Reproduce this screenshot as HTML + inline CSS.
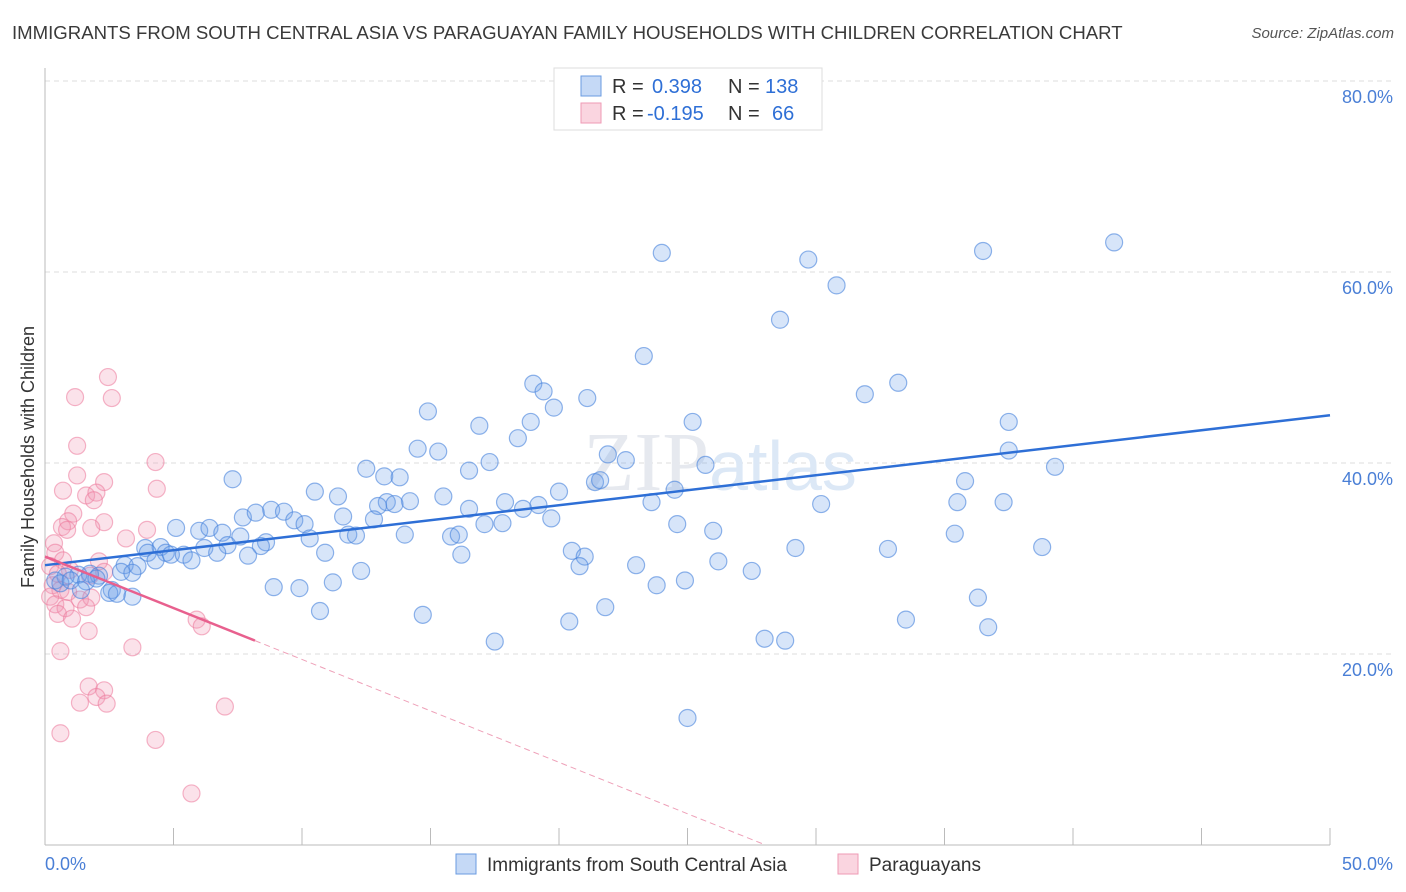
<!DOCTYPE html>
<html><head><meta charset="utf-8">
<style>
body{margin:0;background:#fff;font-family:"Liberation Sans",sans-serif;}
#wrap{position:relative;width:1406px;height:892px;overflow:hidden;}
.t{position:absolute;white-space:nowrap;}
</style></head>
<body>
<div id="wrap">
<div class="t" style="left:12px;top:22px;font-size:18.6px;color:#3a3a3a;">IMMIGRANTS FROM SOUTH CENTRAL ASIA VS PARAGUAYAN FAMILY HOUSEHOLDS WITH CHILDREN CORRELATION CHART</div>
<div class="t" style="right:12px;top:25px;font-size:15px;color:#555;font-style:italic;">Source: ZipAtlas.com</div>
<svg id="svg" width="1406" height="892" style="position:absolute;left:0;top:0;"></svg>
</div>
<script>
const yTicks=[20,40,60,80];
const xTickVals=[0,5,10,15,20,25,30,35,40,45,50];
const blueX=[24.0,29.7,36.5,41.6,30.8,28.6,23.3,19.0,19.4,21.1,19.8,14.9,31.9,33.2,37.5,16.9,18.9,18.4,25.2,14.5,15.3,21.9,22.6,17.3,16.5,25.7,37.5,39.3,12.5,13.2,13.8,7.3,35.8,21.4,21.6,24.5,20.0,10.5,11.4,15.5,13.3,14.2,13.6,17.9,19.2,23.6,30.2,35.5,37.3,16.5,12.96,18.6,8.8,9.3,7.7,8.2,11.6,12.8,19.7,9.7,10.1,17.1,17.8,24.6,5.1,6.0,6.4,6.9,26.0,7.6,11.8,12.1,14.0,15.8,16.1,35.4,10.3,8.6,8.4,7.1,6.2,3.9,4.5,38.8,29.2,32.8,20.5,4.0,4.7,4.9,5.4,6.7,10.9,16.2,21.0,5.7,4.3,7.9,26.2,3.1,20.8,23.0,3.6,12.3,27.5,2.96,3.4,1.75,2.1,1.3,0.8,0.4,0.6,1.0,1.6,2.0,24.9,11.2,23.8,8.9,9.9,1.4,2.6,2.5,2.8,3.4,36.3,21.8,10.7,14.7,33.5,20.4,36.7,28.0,28.8,17.5,25.0];
const blueY=[62.0,61.3,62.2,63.1,58.6,55.0,51.2,48.3,47.5,46.8,45.8,45.4,47.2,48.4,44.3,43.9,44.3,42.6,44.3,41.5,41.2,40.9,40.3,40.1,39.2,39.8,41.3,39.6,39.4,38.6,38.5,38.3,38.1,38.0,38.2,37.2,37.0,37.0,36.5,36.5,35.9,36.0,35.7,35.9,35.6,35.9,35.7,35.9,35.9,35.2,35.5,35.2,35.1,34.9,34.3,34.8,34.4,34.1,34.2,34.0,33.6,33.6,33.7,33.6,33.2,32.9,33.2,32.7,32.9,32.3,32.5,32.4,32.5,32.3,32.5,32.6,32.1,31.7,31.3,31.4,31.1,31.1,31.2,31.2,31.1,31.0,30.8,30.6,30.6,30.4,30.4,30.6,30.6,30.4,30.2,29.8,29.8,30.3,29.7,29.3,29.2,29.3,29.2,28.7,28.7,28.6,28.5,28.4,28.2,28.3,28.1,27.7,27.4,27.7,27.6,27.9,27.7,27.5,27.2,27.0,26.9,26.7,26.7,26.4,26.3,26.0,25.9,24.9,24.5,24.1,23.6,23.4,22.8,21.6,21.4,21.3,13.3];
const pinkX=[2.45,1.17,2.6,1.25,4.3,1.25,2.3,0.7,4.35,1.6,2.0,1.9,1.1,2.3,0.9,0.66,0.86,1.8,3.97,3.15,0.35,0.4,0.7,2.1,0.2,0.97,0.5,2.3,1.75,0.3,0.6,0.9,0.2,1.36,1.8,0.4,0.8,1.6,0.5,1.05,5.9,6.1,1.7,3.4,0.6,1.7,2.3,2.0,1.36,2.4,7.0,0.6,4.3,5.7];
const pinkY=[49.0,46.9,46.8,41.8,40.1,38.7,38.0,37.1,37.3,36.6,36.9,36.1,34.7,33.8,33.9,33.3,33.0,33.2,33.0,32.1,31.6,30.6,29.8,29.7,29.2,28.8,28.4,28.6,28.2,27.2,26.7,26.5,26.0,25.7,25.9,25.2,24.8,24.9,24.2,23.7,23.6,22.9,22.4,20.7,20.3,16.6,16.2,15.5,14.9,14.8,14.5,11.7,11.0,5.4];
const blueTrend=[29.3,45.0];
const pinkTrend=[30.2,21.4,8.17];

const NS="http://www.w3.org/2000/svg";
const svg=document.getElementById('svg');
const X=v=>45+v*25.7;
const Y=v=>845-v*9.55;
function mk(tag,attrs){const e=document.createElementNS(NS,tag);for(const k in attrs)e.setAttribute(k,attrs[k]);svg.appendChild(e);return e;}

yTicks.forEach(t=>{
  const l=mk('line',{x1:45,x2:1393,y1:Y(t),y2:Y(t),stroke:'#dddddd','stroke-dasharray':'5,4'});
  
  
  const tx=mk('text',{x:1393,y:Y(t)+22,'text-anchor':'end','font-size':18,fill:'#4a7fd6','font-family':'Liberation Sans, sans-serif'});
  tx.textContent=t.toFixed(1)+'%';
  
  
});
const ax=mk('line',{x1:45,x2:45,y1:68,y2:845,stroke:'#bbb'});


const bx=mk('line',{x1:45,x2:1330,y1:845,y2:845,stroke:'#bbb'});


xTickVals.forEach(t=>{
  const l=mk('line',{x1:X(t),x2:X(t),y1:828,y2:845,stroke:'#bbb'});
  
  
});
[[0,45,'start'],[50,1393,'end']].forEach(([v,x,a])=>{
  const tx=mk('text',{x:x,y:870,'text-anchor':a,'font-size':18,fill:'#4a7fd6','font-family':'Liberation Sans, sans-serif'});
  tx.textContent=v.toFixed(1)+'%';
  
  
});
const yt=mk('text',{x:0,y:0,transform:'translate(34,457) rotate(-90)','text-anchor':'middle','font-size':18,fill:'#333','font-family':'Liberation Sans, sans-serif'});
yt.textContent='Family Households with Children';


const wm=mk('text',{x:720,y:490,'text-anchor':'middle','font-size':84,fill:'#e6e9ef','font-family':'Liberation Serif, serif'});
wm.innerHTML='ZIP<tspan fill="#dce8f6" font-family="Liberation Sans, sans-serif" font-size="70">atlas</tspan>';



pinkX.forEach((v,i)=>{
  const c=mk('circle',{cx:X(v),cy:Y(pinkY[i]),r:8.5,fill:'rgba(242,150,178,0.28)',stroke:'rgba(236,120,155,0.55)','stroke-width':1.2});
  
  
});
blueX.forEach((v,i)=>{
  const c=mk('circle',{cx:X(v),cy:Y(blueY[i]),r:8.5,fill:'rgba(110,160,232,0.28)',stroke:'rgba(70,130,220,0.6)','stroke-width':1.2});
  
  
});
const bt=mk('line',{x1:X(0),y1:Y(blueTrend[0]),x2:X(50),y2:Y(blueTrend[1]),stroke:'#2e6fd6','stroke-width':2.5});


const slope=(pinkTrend[1]-pinkTrend[0])/pinkTrend[2];
const pt=mk('line',{x1:X(0),y1:Y(pinkTrend[0]),x2:X(pinkTrend[2]),y2:Y(pinkTrend[1]),stroke:'#e8608e','stroke-width':2.5});


const xz=-pinkTrend[0]/slope;
const pd=mk('line',{x1:X(pinkTrend[2]),y1:Y(pinkTrend[1]),x2:X(xz),y2:Y(0),stroke:'#eea0b8','stroke-width':1,'stroke-dasharray':'6,4'});



const lg=mk('rect',{x:554,y:68,width:268,height:62,fill:'#fff',stroke:'#ddd'});


[[72,'rgba(110,160,232,0.4)','#6a9be0','0.398','138'],[99,'rgba(242,150,178,0.4)','#ef9ab5','-0.195','66']].forEach(r=>{
  const s=mk('rect',{x:581,y:r[0]+4,width:20,height:20,fill:r[1],stroke:r[2]});
  
  
  const t=mk('text',{x:612,y:r[0]+21,'font-size':20,fill:'#333','font-family':'Liberation Sans, sans-serif'});
  t.innerHTML='R = <tspan fill="#2e6fd6" x="'+(r[3].startsWith('-')?647:652)+'">'+r[3]+'</tspan><tspan x="728">N = </tspan><tspan fill="#2e6fd6" x="'+(r[4].length>2?765:772)+'">'+r[4]+'</tspan>';
  
  
});
[[456,'rgba(110,160,232,0.4)','#6a9be0','Immigrants from South Central Asia',487],[838,'rgba(242,150,178,0.4)','#ef9ab5','Paraguayans',869]].forEach(r=>{
  const s=mk('rect',{x:r[0],y:854,width:20,height:20,fill:r[1],stroke:r[2]});
  
  
  const t=mk('text',{x:r[4],y:871,'font-size':19,fill:'#333','font-family':'Liberation Sans, sans-serif'});
  t.textContent=r[3];
  
  
});
</script>
</body></html>
